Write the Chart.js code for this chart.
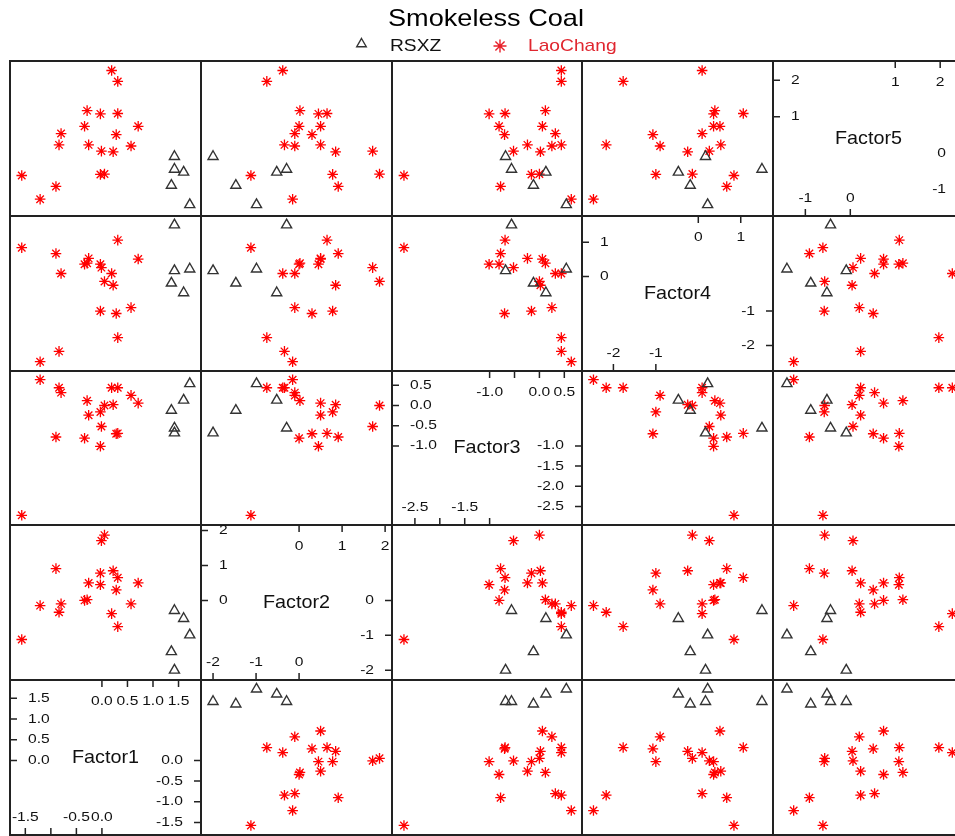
<!DOCTYPE html>
<html>
<head>
<meta charset="utf-8">
<title>Smokeless Coal</title>
<script src="https://cdn.jsdelivr.net/npm/chart.js@4.4.1/dist/chart.umd.min.js"></script>
<style>
  html, body { margin: 0; padding: 0; background: #fff; overflow: hidden; width: 955px; height: 836px; }
  #wrap { position: relative; width: 955px; height: 836px; overflow: hidden; }
  #wrap canvas { position: absolute; display: block; }
</style>
</head>
<body>
<div id="wrap"></div>
<script>
// Variable names (diagonal of the scatterplot matrix) and group names
const factorNames = ['Factor1', 'Factor2', 'Factor3', 'Factor4', 'Factor5'];
const groupNames = ['RSXZ', 'LaoChang'];

// Factor scores, RSXZ samples
const rsxzF1 = [1.42, 1.60, 1.72, 1.36, 1.42];
const rsxzF2 = [-0.29, -0.52, -0.99, -1.47, -2.00];
const rsxzF3 = [-0.56, 0.13, 0.54, -0.12, -0.68];
const rsxzF4 = [1.50, -0.47, 0.22, -0.19, 0.17];
const rsxzF5 = [-0.44, -0.52, -1.41, -0.88, -0.09];

// Factor scores, LaoChang samples
const laoF1 = [-1.57, -1.21, -0.90, -0.84, -0.80, -0.34, -0.29, -0.26, -0.01, -0.03, -0.03, 0.05, 0.19, 0.22, 0.28, 0.31, 0.31, 0.57, 0.71];
const laoF2 = [-1.12, -0.15, 0.91, -0.34, -0.10, 0.00, 0.02, 0.50, 1.71, 0.78, 0.45, 1.87, -0.38, 0.85, 0.30, 0.65, -0.75, -0.10, 0.50];
const laoF3 = [-2.72, 0.64, -0.78, 0.44, 0.32, -0.81, 0.12, -0.24, -0.52, -0.16, -1.01, 0.00, 0.44, 0.02, -0.70, -0.69, 0.44, 0.25, 0.06];
const laoF4 = [0.84, -2.47, 0.67, -2.17, 0.09, 0.36, 0.39, 0.53, 0.26, -1.00, 0.36, -0.14, 0.09, -0.25, -1.07, 1.06, -1.77, -0.90, 0.51];
const laoF5 = [-0.61, -1.26, -0.91, 0.23, 0.54, 0.74, 1.17, 0.23, 0.06, -0.58, 1.08, -0.57, 2.27, 0.04, 0.51, 1.09, 1.97, 0.20, 0.74];

// Axis limits for each factor (shared by every panel that uses it)
const factorMin = [-1.80, -2.28, -2.96, -2.74, -1.72];
const factorMax = [1.94, 2.16, 0.855, 1.76, 2.53];

// Tick values drawn inside the diagonal panels, one list per side
const f1Ticks = { left: [0, 0.5, 1, 1.5], right: [-1.5, -1, -0.5, 0], top: [0, 0.5, 1, 1.5], bottom: [-1.5, -1, -0.5, 0] };
const f2Ticks = { left: [0, 1, 2], right: [-2, -1, 0], top: [0, 1, 2], bottom: [-2, -1, 0] };
const f3Ticks = { left: [-1, -0.5, 0, 0.5], right: [-2.5, -2, -1.5, -1], top: [-1, -0.5, 0, 0.5], bottom: [-2.5, -2, -1.5, -1] };
const f4Ticks = { left: [0, 1], right: [-2, -1], top: [0, 1], bottom: [-2, -1] };
const f5Ticks = { left: [1, 2], right: [-1, 0], top: [1, 2], bottom: [-1, 0] };
// Ticks whose labels are left out because they would collide with a neighbour
const f1Unlabeled = { bottom: [-1] };
const f3Unlabeled = { top: [-0.5], bottom: [-2, -1] };
const tickDecimals = [1, 0, 1, 0, 0];

const rsxzScores = [rsxzF1, rsxzF2, rsxzF3, rsxzF4, rsxzF5];
const laoScores = [laoF1, laoF2, laoF3, laoF4, laoF5];
const diagTicks = [f1Ticks, f2Ticks, f3Ticks, f4Ticks, f5Ticks];
const diagUnlabeled = [f1Unlabeled, {}, f3Unlabeled, {}, {}];

// Page geometry of the 5 x 5 panel grid
const colEdges = [10, 201, 392, 582, 773, 964];
const rowEdges = [61, 216, 371, 525, 680, 835];

const LINE = '#222';
const TEXT = '#111';
const RED = '#ff0000';
const FONT = '"Liberation Sans", Arial, Helvetica, sans-serif';

// Text drawn slightly widened horizontally
function wideText(ctx, str, x, y, size, align, sx, color) {
  ctx.save();
  ctx.font = size + 'px ' + FONT;
  ctx.fillStyle = color;
  ctx.textBaseline = 'middle';
  ctx.textAlign = 'left';
  const w = ctx.measureText(str).width * sx;
  const left = align === 'left' ? x : (align === 'right' ? x - w : x - w / 2);
  ctx.translate(left, y);
  ctx.scale(sx, 1);
  ctx.fillText(str, 0, 0);
  ctx.restore();
}

// Panel border
const framePlugin = {
  id: 'panelFrame',
  afterDraw(chart) {
    const { ctx, chartArea: a } = chart;
    ctx.save();
    ctx.strokeStyle = LINE;
    ctx.lineWidth = 2;
    ctx.strokeRect(a.left, a.top, a.right - a.left, a.bottom - a.top);
    ctx.restore();
  }
};

// Variable name and inner axis ticks of a diagonal panel
const diagPlugin = {
  id: 'diagLabels',
  afterDraw(chart, args, opts) {
    const k = opts.factor;
    if (k === undefined || k < 0) return;
    const { ctx, chartArea: a } = chart;
    const xs = chart.scales.x, ys = chart.scales.y;
    const t = diagTicks[k];
    const skip = diagUnlabeled[k];
    const fmt = v => v.toFixed(tickDecimals[k]);
    const shown = (side, v) => !(skip[side] || []).includes(v);
    const TL = 7, FS = 13, SX = 1.2;
    ctx.save();
    ctx.strokeStyle = LINE;
    ctx.lineWidth = 1.5;
    ctx.beginPath();
    t.left.forEach(v => { const y = ys.getPixelForValue(v); ctx.moveTo(a.left, y); ctx.lineTo(a.left + TL, y); });
    t.right.forEach(v => { const y = ys.getPixelForValue(v); ctx.moveTo(a.right - TL, y); ctx.lineTo(a.right, y); });
    t.top.forEach(v => { const x = xs.getPixelForValue(v); ctx.moveTo(x, a.top); ctx.lineTo(x, a.top + TL); });
    t.bottom.forEach(v => { const x = xs.getPixelForValue(v); ctx.moveTo(x, a.bottom - TL); ctx.lineTo(x, a.bottom); });
    ctx.stroke();
    ctx.restore();
    t.left.forEach(v => { if (shown('left', v)) wideText(ctx, fmt(v), a.left + 18, ys.getPixelForValue(v), FS, 'left', SX, TEXT); });
    t.right.forEach(v => { if (shown('right', v)) wideText(ctx, fmt(v), a.right - 18, ys.getPixelForValue(v), FS, 'right', SX, TEXT); });
    t.top.forEach(v => { if (shown('top', v)) wideText(ctx, fmt(v), xs.getPixelForValue(v), a.top + 21.5, FS, 'center', SX, TEXT); });
    t.bottom.forEach(v => { if (shown('bottom', v)) wideText(ctx, fmt(v), xs.getPixelForValue(v), a.bottom - 18, FS, 'center', SX, TEXT); });
    wideText(ctx, factorNames[k], (a.left + a.right) / 2, (a.top + a.bottom) / 2, 19, 'center', 1.04, TEXT);
  }
};

// Title and key above the matrix
const headerPlugin = {
  id: 'header',
  afterDraw(chart) {
    const ctx = chart.ctx;
    wideText(ctx, 'Smokeless Coal', 486, 19, 24, 'center', 1.13, '#000');
    const marker = (style, r, color, x, y) => {
      ctx.save();
      ctx.strokeStyle = color;
      ctx.fillStyle = 'rgba(0,0,0,0)';
      ctx.lineWidth = 1.4;
      Chart.helpers.drawPoint(ctx, { pointStyle: style, radius: r, rotation: 0, borderWidth: 1.4 }, x, y);
      ctx.restore();
    };
    marker('triangle', 5.5, '#333', 361.5, 44);
    wideText(ctx, groupNames[0], 390, 46.5, 17, 'left', 1.13, '#111');
    marker('star', 6.5, '#e8202a', 500, 46);
    wideText(ctx, groupNames[1], 528, 46.5, 17, 'left', 1.13, '#e0262f');
  }
};

const wrap = document.getElementById('wrap');
function makeCanvas(left, top, w, h) {
  const c = document.createElement('canvas');
  c.width = w;
  c.height = h;
  c.style.left = left + 'px';
  c.style.top = top + 'px';
  c.style.width = w + 'px';
  c.style.height = h + 'px';
  wrap.appendChild(c);
  return c;
}

const baseOptions = {
  responsive: false,
  animation: false,
  devicePixelRatio: 1,
  events: []
};

// Header canvas
new Chart(makeCanvas(0, 0, 955, 60), {
  type: 'scatter',
  data: { datasets: [] },
  options: Object.assign({}, baseOptions, {
    scales: { x: { display: false }, y: { display: false } },
    plugins: { legend: { display: false }, tooltip: { enabled: false } }
  }),
  plugins: [headerPlugin]
});

// Scatterplot matrix: column c shows factor c on x, row r (from the top) shows factor 5-r on y
for (let r = 0; r < 5; r++) {
  for (let c = 0; c < 5; c++) {
    const xi = c, yi = 4 - r;
    const left = colEdges[c], top = rowEdges[r];
    const w = colEdges[c + 1] - left, h = rowEdges[r + 1] - top;
    const canvas = makeCanvas(left - 1, top - 1, w + 2, h + 2);
    const isDiag = xi === yi;
    const datasets = isDiag ? [] : [
      {
        label: groupNames[0],
        data: rsxzScores[xi].map((v, i) => ({ x: v, y: rsxzScores[yi][i] })),
        pointStyle: 'triangle',
        pointRadius: 5.8,
        pointBorderWidth: 1.4,
        pointBorderColor: '#333',
        pointBackgroundColor: 'rgba(0,0,0,0)',
        showLine: false,
        clip: 0
      },
      {
        label: groupNames[1],
        data: laoScores[xi].map((v, i) => ({ x: v, y: laoScores[yi][i] })),
        pointStyle: 'star',
        pointRadius: 5.3,
        pointBorderWidth: 1.3,
        pointBorderColor: RED,
        pointBackgroundColor: RED,
        showLine: false,
        clip: 0
      }
    ];
    new Chart(canvas, {
      type: 'scatter',
      data: { datasets },
      options: Object.assign({}, baseOptions, {
        layout: { padding: 1, autoPadding: false },
        scales: {
          x: { type: 'linear', display: false, min: factorMin[xi], max: factorMax[xi] },
          y: { type: 'linear', display: false, min: factorMin[yi], max: factorMax[yi] }
        },
        plugins: {
          legend: { display: false },
          tooltip: { enabled: false },
          diagLabels: { factor: isDiag ? xi : -1 }
        }
      }),
      plugins: [framePlugin, diagPlugin]
    });
  }
}
</script>
</body>
</html>
